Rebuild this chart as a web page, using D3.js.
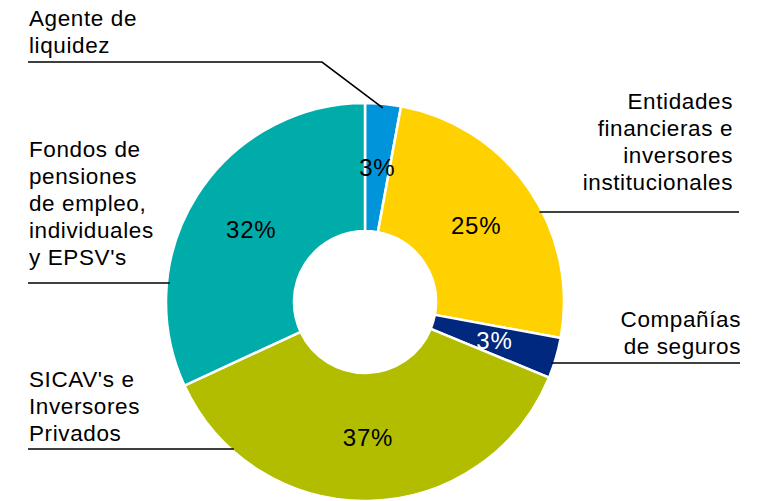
<!DOCTYPE html>
<html>
<head>
<meta charset="utf-8">
<script src="https://cdn.jsdelivr.net/npm/d3@7"></script>
<style>
  body { margin: 0; background: #fff; }
  svg text { font-family: "Liberation Sans", Arial, sans-serif; fill: #000; }
</style>
</head>
<body>
<svg id="chart" width="762" height="501"></svg>
<script>
// Data
const categories = ['Agente de liquidez', 'Entidades financieras e inversores institucionales',
    'Compañías de seguros', "SICAV's e Inversores Privados", "Fondos de pensiones de empleo, individuales y EPSV's"];
const shares = [2.9, 25.0, 3.3, 36.9, 31.9];
const colors = ['#0095DA', '#FFD100', '#00287F', '#B3BD00', '#00ACAA'];
const labelLines = [
    ['Agente de', 'liquidez'],
    ['Entidades', 'financieras e', 'inversores', 'institucionales'],
    ['Compañías', 'de seguros'],
    ["SICAV's e", 'Inversores', 'Privados'],
    ['Fondos de', 'pensiones', 'de empleo,', 'individuales', "y EPSV's"]
];
const pctColors = ['#000', '#000', '#fff', '#000', '#000'];

// Layout for the outside labels (x, first baseline, anchor, underline y, underline outer x)
const labelLayout = [
    { x: 29, y: 26, anchor: 'start', lineY: 62, lineX: 28, bend: 322 },
    { x: 733, y: 109, anchor: 'end', lineY: 212, lineX: 739 },
    { x: 741, y: 327, anchor: 'end', lineY: 363, lineX: 740 },
    { x: 29, y: 387, anchor: 'start', lineY: 449, lineX: 28 },
    { x: 29, y: 157, anchor: 'start', lineY: 283, lineX: 28 }
];

const svg = d3.select('#chart');
const cx = 365, cy = 302;
const outerR = 199, innerR = 71;
const lineH = 27;

const pie = d3.pie().sort(null).value(d => d);
const arc = d3.arc().innerRadius(innerR).outerRadius(outerR);
const arcs = pie(shares);

const g = svg.append('g').attr('transform', `translate(${cx},${cy})`);

g.selectAll('path.slice')
    .data(arcs)
    .enter().append('path')
    .attr('class', 'slice')
    .attr('d', arc)
    .attr('fill', (d, i) => colors[i])
    .attr('stroke', '#fff')
    .attr('stroke-width', 2.5);

// percentage labels
g.selectAll('text.pct')
    .data(arcs)
    .enter().append('text')
    .attr('class', 'pct')
    .attr('x', d => arc.centroid(d)[0])
    .attr('y', d => arc.centroid(d)[1])
    .attr('dy', '0.36em')
    .attr('text-anchor', 'middle')
    .style('font-size', '24px')
    .style('letter-spacing', '0.8px')
    .style('fill', (d, i) => pctColors[i])
    .text(d => Math.round(d.data) + '%');

// outside labels
const labels = svg.append('g');
labelLines.forEach((lines, i) => {
    const lay = labelLayout[i];
    const t = labels.append('text')
        .attr('text-anchor', lay.anchor)
        .style('font-size', '22.5px')
        .style('letter-spacing', '0.6px');
    lines.forEach((ln, j) => {
        t.append('tspan').attr('x', lay.x).attr('y', lay.y + j * lineH).text(ln);
    });
});

// leader lines
labelLayout.forEach((lay, i) => {
    let pts;
    if (lay.bend !== undefined) {
        // diagonal to the middle of the slice outer edge
        const a = (arcs[i].startAngle + arcs[i].endAngle) / 2;
        const r = outerR - 4;
        const end = [cx + r * Math.sin(a), cy - r * Math.cos(a)];
        pts = [[lay.lineX, lay.lineY], [lay.bend, lay.lineY], end];
    } else {
        const dy = lay.lineY - cy;
        const dx = Math.sqrt(outerR * outerR - dy * dy) - 3;
        const side = lay.anchor === 'end' ? 1 : -1;
        pts = [[lay.lineX, lay.lineY], [cx + side * dx, lay.lineY]];
    }
    svg.append('path')
        .attr('d', d3.line()(pts))
        .attr('fill', 'none')
        .attr('stroke', '#000')
        .attr('stroke-width', 1.6);
});
</script>
</body>
</html>
